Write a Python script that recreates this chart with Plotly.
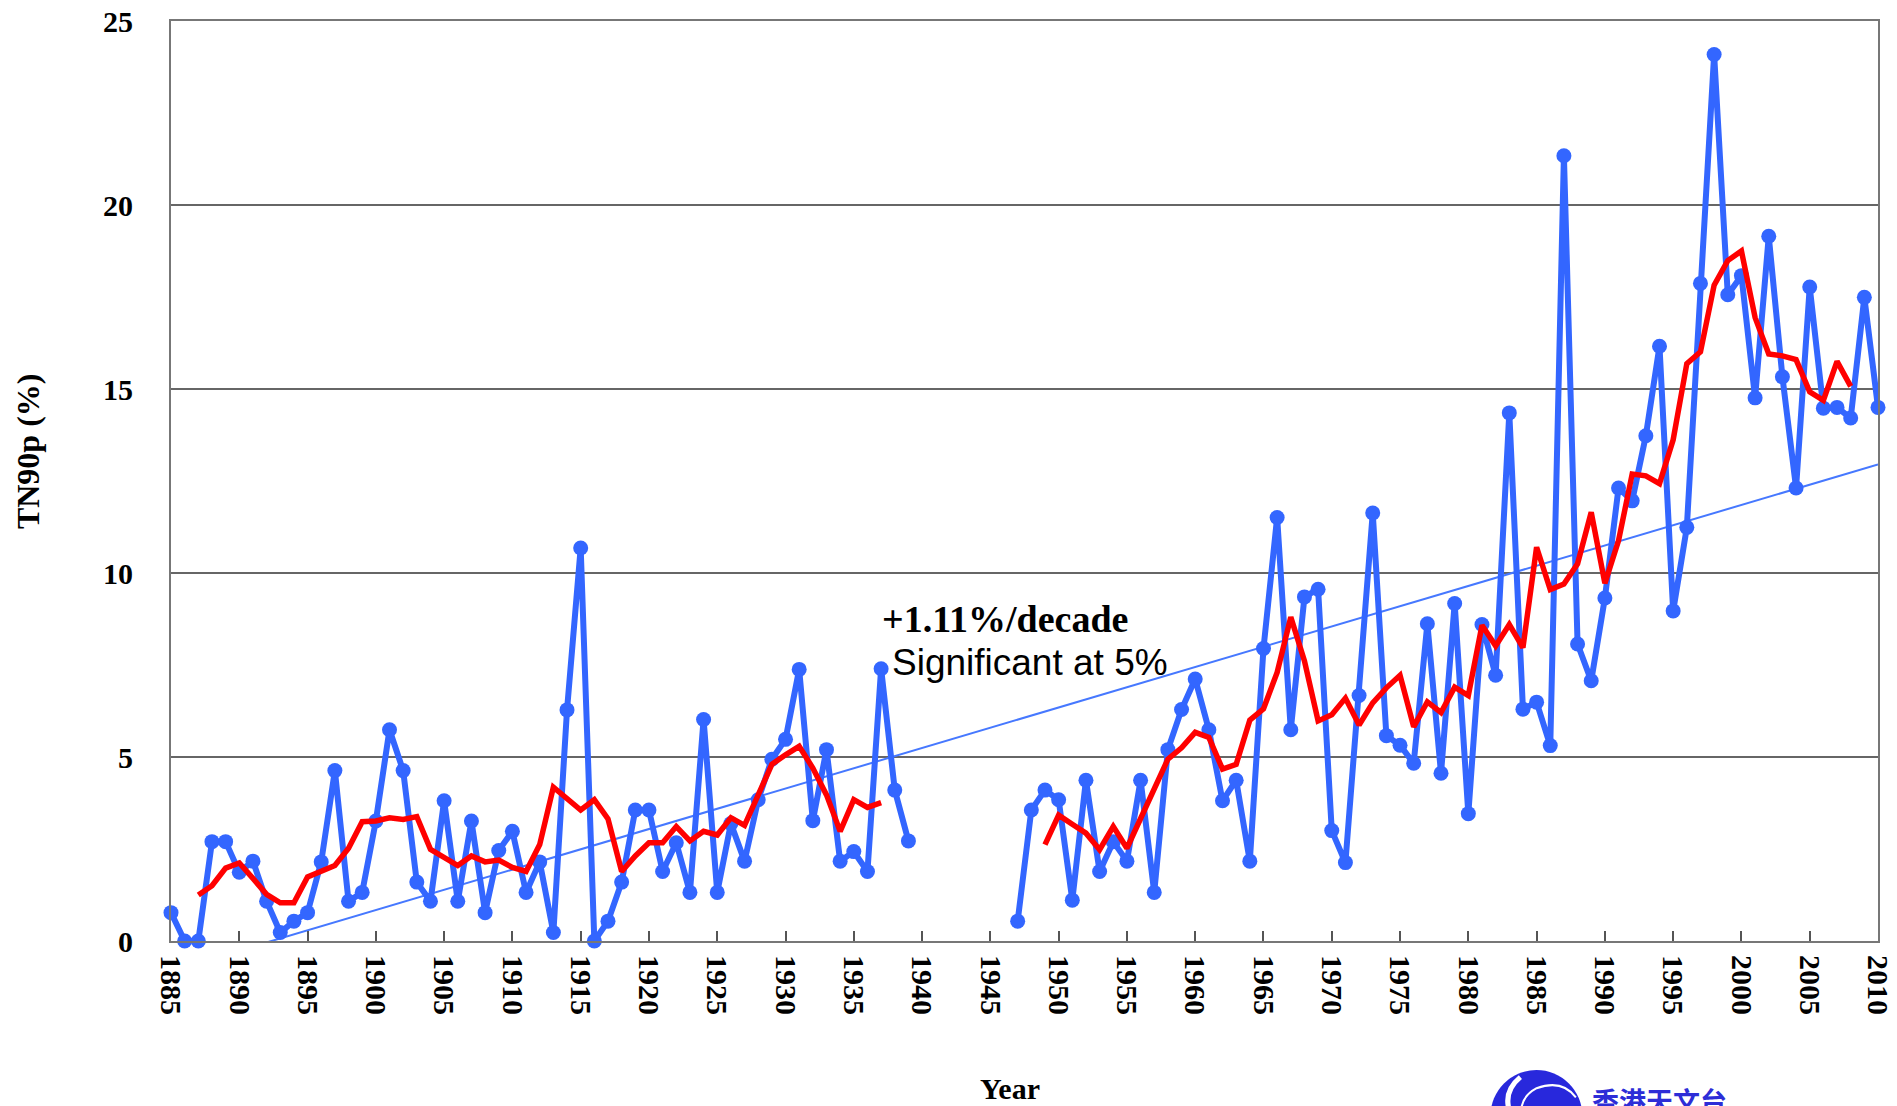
import plotly.graph_objects as go

# ---------------- data ----------------
years = list(range(1885, 2011))
tn90p = [
    0.77, 0.00, 0.00, 2.70, 2.70, 1.87, 2.17, 1.08, 0.23, 0.54,   # 1885-1894
    0.77, 2.15, 4.63, 1.08, 1.32, 3.26, 5.74, 4.63, 1.60, 1.08,   # 1895-1904
    3.81, 1.08, 3.26, 0.77, 2.46, 2.98, 1.32, 2.15, 0.23, 6.28,   # 1905-1914
    10.68, 0.00, 0.54, 1.60, 3.56, 3.56, 1.89, 2.67, 1.32, 6.02,  # 1915-1924
    1.32, 3.19, 2.17, 3.84, 4.94, 5.48, 7.38, 3.27, 5.20, 2.17,   # 1925-1934
    2.43, 1.89, 7.40, 4.10, 2.72, None, None, None, None, None,   # 1935-1944
    None, None, 0.54, 3.56, 4.10, 3.84, 1.11, 4.37, 1.89, 2.70,   # 1945-1954
    2.17, 4.37, 1.32, 5.20, 6.29, 7.12, 5.74, 3.81, 4.37, 2.17,   # 1955-1964
    7.95, 11.51, 5.74, 9.35, 9.56, 3.00, 2.13, 6.67, 11.63, 5.58, # 1965-1974
    5.32, 4.83, 8.62, 4.56, 9.17, 3.46, 8.60, 7.22, 14.35, 6.30,  # 1975-1984
    6.49, 5.31, 21.34, 8.07, 7.07, 9.32, 12.31, 11.96, 13.73, 16.16,  # 1985-1994
    8.97, 11.24, 17.87, 24.09, 17.56, 18.08, 14.76, 19.15, 15.33, 12.31,  # 1995-2004
    17.77, 14.48, 14.50, 14.21, 17.49, 14.50,                     # 2005-2010
]

ma_years = list(range(1887, 2009))
ma_values = [
    1.25, 1.50, 1.98, 2.12, 1.70, 1.27, 1.04, 1.04,               # 1887-1894
    1.74, 1.89, 2.05, 2.52, 3.24, 3.26, 3.35, 3.30, 3.38, 2.49,   # 1895-1904
    2.26, 2.05, 2.31, 2.15, 2.20, 2.00, 1.89, 2.62, 4.18, 3.87,   # 1905-1914
    3.56, 3.84, 3.32, 1.89, 2.31, 2.67, 2.67, 3.11, 2.72, 2.98,   # 1915-1924
    2.88, 3.35, 3.14, 3.97, 4.80, 5.06, 5.29, 4.70, 3.97, 2.98,   # 1925-1934
    3.84, 3.63, 3.76, None, None, None, None, None, None, None,   # 1935-1944
    None, None, None, None, 2.62, 3.42, 3.17, 2.93, 2.48, 3.11,   # 1945-1954
    2.52, 3.32, 4.18, 4.94, 5.25, 5.67, 5.53, 4.67, 4.80, 6.00,   # 1955-1964
    6.31, 7.30, 8.80, 7.61, 5.98, 6.15, 6.60, 5.87, 6.47, 6.88,   # 1965-1974
    7.22, 5.82, 6.50, 6.21, 6.90, 6.67, 8.58, 8.02, 8.60, 7.97,   # 1975-1984
    10.70, 9.55, 9.70, 10.25, 11.65, 9.72, 10.88, 12.69, 12.64, 12.43,  # 1985-1994
    13.62, 15.69, 16.01, 17.82, 18.49, 18.75, 16.94, 15.95, 15.90, 15.80,  # 1995-2004
    14.92, 14.69, 15.75, 15.07,                                   # 2005-2008
]

trend_years = [1885, 2010]
trend_values = [-0.81, 12.95]

x_ticks = list(range(1885, 2011, 5))
y_ticks = [0, 5, 10, 15, 20, 25]

BLUE = "rgb(51,102,255)"
RED = "rgb(255,0,0)"
SERIF = "Liberation Serif"

fig = go.Figure()

fig.add_trace(go.Scatter(
    x=trend_years, y=trend_values, mode="lines",
    line=dict(color="rgb(70,120,255)", width=2),
    hoverinfo="skip", showlegend=False,
))
fig.add_trace(go.Scatter(
    x=years, y=tn90p, mode="lines+markers",
    line=dict(color=BLUE, width=6),
    marker=dict(color=BLUE, size=15, line=dict(width=0)),
    connectgaps=False, cliponaxis=False, showlegend=False,
))
fig.add_trace(go.Scatter(
    x=ma_years, y=ma_values, mode="lines",
    line=dict(color=RED, width=5.5),
    connectgaps=False, cliponaxis=False, showlegend=False,
))

fig.update_layout(
    width=1897, height=1106,
    margin=dict(l=171, r=19, t=21, b=165, autoexpand=False),
    paper_bgcolor="white", plot_bgcolor="white",
    showlegend=False,
    xaxis=dict(
        range=[1885, 2010], tickmode="array", tickvals=x_ticks,
        ticktext=[str(v) for v in x_ticks], automargin=False,
        tickangle=90, ticks="inside", ticklen=10, tickwidth=2, tickcolor="#555",
        tickfont=dict(family=SERIF, size=30, color="black", weight="bold"),
        showgrid=False, zeroline=False,
        showline=True, linecolor="#777", linewidth=2, mirror=True,
        ticklabelstandoff=6,
    ),
    yaxis=dict(
        range=[0, 25], tickmode="array", tickvals=y_ticks,
        ticktext=[str(v) for v in y_ticks], automargin=False,
        ticks="", tickfont=dict(family=SERIF, size=30, color="black", weight="bold"),
        showgrid=True, gridcolor="#666", gridwidth=1.5, zeroline=False,
        showline=True, linecolor="#777", linewidth=2, mirror=True,
        ticklabelstandoff=30,
    ),
    annotations=[
        dict(text="+1.11%/decade", xref="paper", yref="paper", x=0.4156, y=0.3498,
             xanchor="left", yanchor="middle", showarrow=False,
             font=dict(family=SERIF, size=38, color="black", weight="bold")),
        dict(text="Significant at 5%", xref="paper", yref="paper", x=0.4214, y=0.3031,
             xanchor="left", yanchor="middle", showarrow=False,
             font=dict(family="Liberation Sans", size=37, color="black")),
        dict(text="Year", xref="paper", yref="paper", x=0.4917, y=-0.1608,
             xanchor="center", yanchor="middle", showarrow=False,
             font=dict(family=SERIF, size=30, color="black", weight="bold")),
        dict(text="TN90p (%)", xref="paper", yref="paper", x=-0.0841, y=0.533,
             xanchor="center", yanchor="middle", showarrow=False, textangle=-90,
             font=dict(family=SERIF, size=32, color="black", weight="bold")),
        dict(text="香港天文台", xref="paper", yref="paper", x=0.8315, y=-0.150,
             xanchor="left", yanchor="top", showarrow=False,
             font=dict(family="Noto Sans CJK TC", size=27, color="rgb(45,45,215)", weight="bold")),
    ],
    shapes=[
        dict(type="circle", xref="paper", yref="paper",
             x0=0.773, x1=0.8268, y0=-0.240, y1=-0.1402,
             fillcolor="rgb(40,40,220)", line=dict(width=0), layer="above"),
        dict(type="path", xref="paper", yref="paper",
             path="M 0.7905 -0.1480 Q 0.7760 -0.1700 0.7900 -0.2050",
             line=dict(color="white", width=5), layer="above"),
        dict(type="path", xref="paper", yref="paper",
             path="M 0.7950 -0.2100 Q 0.7850 -0.1750 0.8000 -0.1600 Q 0.8150 -0.1500 0.8230 -0.1700",
             line=dict(color="white", width=2), layer="above"),
    ],
)

fig.write_html(
    "out.html",
    config={"displayModeBar": False},
    post_script="document.body.style.margin='0';document.body.style.padding='0';"
                "document.body.style.overflow='hidden';",
)
